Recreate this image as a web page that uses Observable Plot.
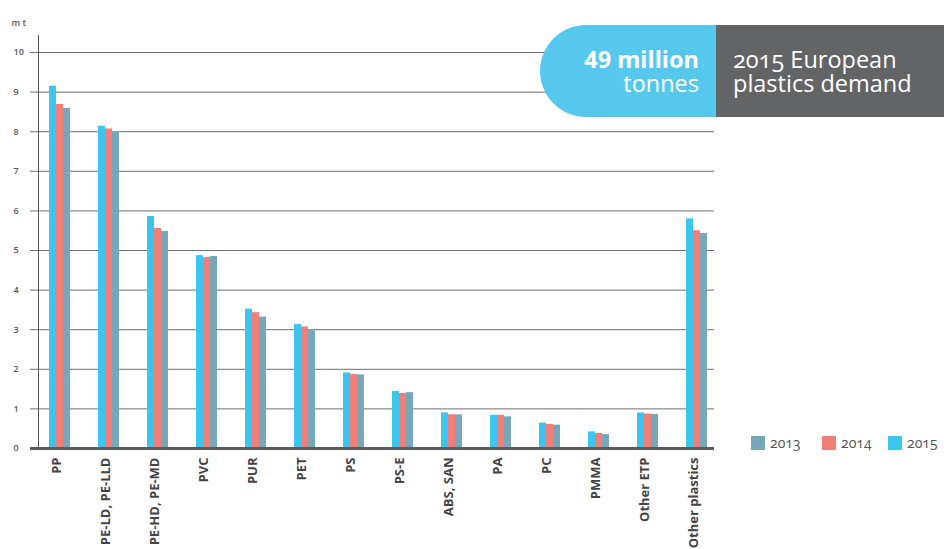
<!DOCTYPE html>
<html>
<head>
<meta charset="utf-8">
<script src="https://cdn.jsdelivr.net/npm/d3@7"></script>
<script src="https://cdn.jsdelivr.net/npm/@observablehq/plot@0.6"></script>
<style>
  html, body { margin: 0; padding: 0; background: #fff; }
  #wrap { position: relative; width: 944px; height: 549px; overflow: hidden; font-family: "Open Sans", sans-serif; }
  #chart svg g[aria-label="x-axis tick label"] text { font-weight: bold; }
  .badge { position: absolute; top: 25px; height: 92px; box-sizing: border-box; display: flex; flex-direction: column; justify-content: center; color: #fff; font-size: 23.5px; line-height: 24px; white-space: nowrap; }
  .badge.left { left: 540px; width: 176px; padding-right: 17px; background: #56c8ee; border-radius: 48px 0 0 48px; align-items: flex-end; }
  .badge.right { left: 716px; width: 228px; padding-left: 17px; background: #636466; align-items: flex-start; }
  .badge b { font-weight: 700; }
  .num { font-variant-numeric: oldstyle-nums; }
  .legend { position: absolute; top: 433px; left: 0; width: 944px; height: 18px; font-size: 14px; color: #555; font-variant-numeric: oldstyle-nums; }
  .legend span.item { position: absolute; top: 0; display: inline-flex; align-items: center; white-space: nowrap; }
  .legend span.sw { display: inline-block; width: 14px; height: 14px; margin-right: 5px; }
</style>
</head>
<body>
<div id="wrap">
  <div id="chart"></div>
  <div class="badge left"><div><b>49 million</b></div><div>tonnes</div></div>
  <div class="badge right"><div class="num">2015 European</div><div>plastics demand</div></div>
  <div class="legend" id="legend"></div>
</div>
<script>
const categories = ["PP", "PE-LD, PE-LLD", "PE-HD, PE-MD", "PVC", "PUR", "PET", "PS", "PS-E", "ABS, SAN", "PA", "PC", "PMMA", "Other ETP", "Other plastics"];
const v2015 = [9.15, 8.14, 5.86, 4.87, 3.52, 3.13, 1.91, 1.44, 0.90, 0.84, 0.64, 0.42, 0.90, 5.80];
const v2014 = [8.69, 8.07, 5.56, 4.82, 3.43, 3.07, 1.87, 1.39, 0.85, 0.84, 0.61, 0.38, 0.87, 5.50];
const v2013 = [8.59, 8.00, 5.48, 4.85, 3.32, 3.00, 1.86, 1.41, 0.85, 0.80, 0.59, 0.35, 0.86, 5.43];
const years = ["2013", "2014", "2015"];
const yearColors = ["#77a7ba", "#f17f78", "#3cc6ef"];
const legendLeft = [751, 822, 888];
const yTicks = [0, 1, 2, 3, 4, 5, 6, 7, 8, 9, 10];
const unitLabel = "m t";

const rows = categories.map((c, i) => ({cat: c, v2013: v2013[i], v2014: v2014[i], v2015: v2015[i]}));

const chart = Plot.plot({
  width: 944,
  height: 549,
  marginLeft: 38,
  marginRight: 226,
  marginTop: 35,
  marginBottom: 101,
  style: {fontFamily: "Open Sans", background: "transparent", overflow: "visible"},
  x: {domain: categories, paddingInner: 0.5714, paddingOuter: 0.2245, round: false, label: null},
  y: {domain: [0, 10.43], axis: null},
  marks: [
    Plot.ruleY(yTicks.slice(1), {stroke: "#6d6e70", strokeWidth: 1, insetLeft: -8, insetRight: 4}),
    Plot.barY(rows, {x: "cat", y: "v2015", fill: yearColors[2], insetRight: 14}),
    Plot.barY(rows, {x: "cat", y: "v2014", fill: yearColors[1], insetLeft: 7, insetRight: 7}),
    Plot.barY(rows, {x: "cat", y: "v2013", fill: yearColors[0], insetLeft: 14}),
    Plot.ruleY([0], {stroke: "#5a5b5d", strokeWidth: 3, insetLeft: -8, insetRight: 4}),
    Plot.frame({anchor: "left", stroke: "#555"}),
    Plot.text(yTicks, {y: d => d, text: d => String(d), frameAnchor: "left", dx: -25, textAnchor: "start", fontSize: 9, fontWeight: 600, fill: "#555"}),
    Plot.axisX({tickRotate: -90, tickSize: 0, tickPadding: 9, fontSize: 13, fontWeight: "bold", fill: "#444", dx: -3, label: null}),
    Plot.text([unitLabel], {text: d => d, frameAnchor: "top-left", dx: -27, dy: -16, textAnchor: "start", fontSize: 9, fontWeight: 600, fill: "#555"})
  ]
});
document.getElementById("chart").appendChild(chart);

const legend = document.getElementById("legend");
years.forEach((y, i) => {
  const item = document.createElement("span");
  item.className = "item";
  item.style.left = legendLeft[i] + "px";
  const sw = document.createElement("span");
  sw.className = "sw";
  sw.style.background = yearColors[i];
  item.appendChild(sw);
  item.appendChild(document.createTextNode(y));
  legend.appendChild(item);
});
</script>
</body>
</html>
